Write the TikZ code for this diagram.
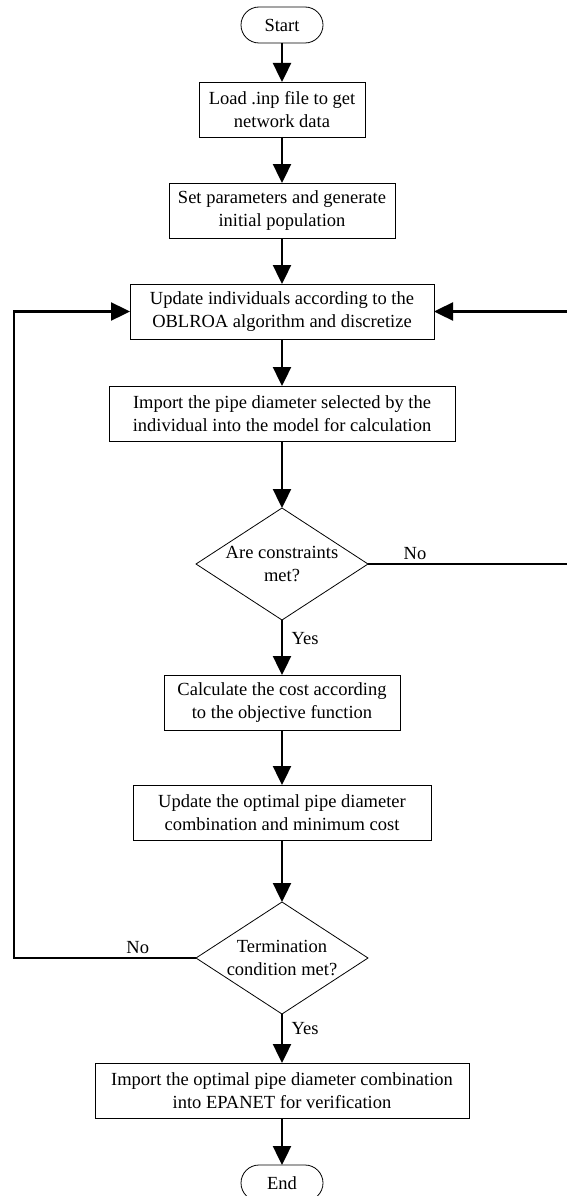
\documentclass[tikz,border=0pt]{standalone}
\usepackage{fontspec}
\setmainfont{Liberation Serif}
\usetikzlibrary{arrows.meta,shapes.geometric,positioning}

\begin{document}
\begin{tikzpicture}[
    node distance=46pt,
    every node/.style={font=\fontsize{18.5}{23}\selectfont},
    term/.style={rectangle, draw, line width=0.8pt, rounded corners=18pt, minimum width=82pt, minimum height=36pt, inner sep=0pt, outer sep=0pt},
    box/.style={rectangle, draw, line width=0.8pt, minimum height=55pt, inner sep=2pt, outer sep=0pt, align=center},
    decision/.style={diamond, draw, line width=0.8pt, minimum width=172pt, minimum height=112pt, inner sep=-2pt, outer sep=0pt, shape aspect=1.54, align=center},
    arrow/.style={-{Triangle[length=19pt, width=18pt]}, line width=2.4pt}
]
    \useasboundingbox (0,0) rectangle (566pt,-1196pt);
    \node[term] (start) at (282pt,-25pt) {Start};
    \node[box, minimum width=166pt, below=39pt of start] (load) {Load .inp file to get\\network data};
    \node[box, minimum width=226pt, below=of load] (init) {Set parameters and generate\\initial population};
    \node[box, minimum width=304pt, below=of init] (update) {Update individuals according to the\\OBLROA algorithm and discretize};
    \node[box, minimum width=346pt, below=47pt of update] (calc) {Import the pipe diameter selected by the\\individual into the model for calculation};
    \node[decision, below=67pt of calc] (check) {Are constraints\\met?};
    \node[box, minimum width=236pt, below=55pt of check] (cost) {Calculate the cost according\\to the objective function};
    \node[box, minimum width=298pt, below=55pt of cost] (best) {Update the optimal pipe diameter\\combination and minimum cost};
    \node[decision, below=62pt of best] (stop) {Termination\\condition met?};
    \node[box, minimum width=374pt, below=49pt of stop] (verify) {Import the optimal pipe diameter combination\\into EPANET for verification};
    \node[term, below=47pt of verify] (end) {End};
    % main flow
    \draw[arrow] (start) -- (load);
    \draw[arrow] (load) -- (init);
    \draw[arrow] (init) -- (update);
    \draw[arrow] (update) -- (calc);
    \draw[arrow] (calc) -- (check);
    \draw[arrow] (check) -- node[right, xshift=5pt, pos=0.33] {Yes} (cost);
    \draw[arrow] (cost) -- (best);
    \draw[arrow] (best) -- (stop);
    \draw[arrow] (stop) -- node[right, xshift=5pt, pos=0.3] {Yes} (verify);
    \draw[arrow] (verify) -- (end);
    % loops back to update
    \coordinate (rloop) at ([xshift=200pt]check.east);
    \coordinate (lloop) at ([xshift=-182pt]stop.west);
    \draw[arrow] (check.east) -- node[above, pos=0.235] {No} (rloop) |- (update.east);
    \draw[arrow] (stop.west) -- node[above, pos=0.32] {No} (lloop) |- (update.west);
\end{tikzpicture}
\end{document}
